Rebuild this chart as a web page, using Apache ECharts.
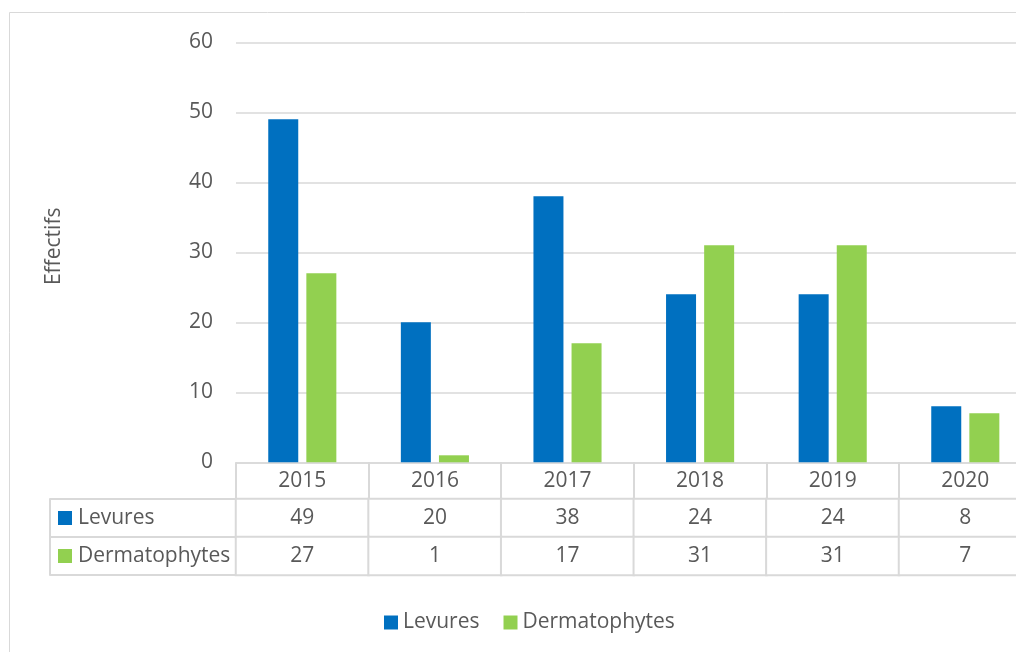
<!DOCTYPE html>
<html>
<head>
<meta charset="utf-8">
<script src="https://cdn.jsdelivr.net/npm/echarts@6/dist/echarts.min.js"></script>
<style>
  html, body { margin: 0; padding: 0; background: #fff; overflow: hidden; }
  /* the chart is a little wider than the window; its right edge is cut off */
  #chart { width: 1040px; height: 652px; }
</style>
</head>
<body>
<div id="chart"></div>
<script>
// Years on the category axis
const years = ['2015', '2016', '2017', '2018', '2019', '2020'];
// Counts per year
const levures = [49, 20, 38, 24, 24, 8];
const dermatophytes = [27, 1, 17, 31, 31, 7];
// Series names and colours
const seriesNames = ['Levures', 'Dermatophytes'];
const seriesColors = ['#0070C0', '#92D050'];
// Value axis ticks
const yMin = 0, yMax = 60, yStep = 10;

const FONT = 'Open Sans';
const FS = 21;
const TEXT = '#595959';
const LINE = '#d9d9d9';

// Cells of the data table under the axis: [column, row, value]
const tableCells = [];
[levures, dermatophytes].forEach((vals, row) => {
  vals.forEach((v, col) => tableCells.push([col, row, v]));
});

const chart = echarts.init(document.getElementById('chart'), null, { renderer: 'canvas' });

const plotLeft = 236, plotWidth = 795.6;

chart.setOption({
  backgroundColor: '#fff',
  animation: false,
  textStyle: { fontFamily: FONT, color: TEXT },
  graphic: [{
    type: 'rect',
    shape: { x: 9.5, y: 12.5, width: 1100, height: 700 },
    style: { fill: 'none', stroke: LINE, lineWidth: 1 },
    silent: true
  }],
  legend: {
    data: seriesNames,
    left: 379,
    top: 607,
    icon: 'rect',
    itemWidth: 14,
    itemHeight: 14,
    itemGap: 24,
    textStyle: { fontFamily: FONT, fontSize: FS, color: TEXT }
  },
  grid: [
    { left: plotLeft, top: 42.3, width: plotWidth, height: 420 },
    { left: plotLeft, top: 499, width: plotWidth, height: 76 }
  ],
  xAxis: [
    {
      gridIndex: 0,
      type: 'category',
      data: years,
      axisLine: { show: true, lineStyle: { color: LINE, width: 1.5 } },
      axisTick: { show: true, length: 37, lineStyle: { color: LINE, width: 2 } },
      axisLabel: { fontFamily: FONT, fontSize: FS, color: TEXT, margin: 8 },
      splitLine: { show: false }
    },
    {
      gridIndex: 1,
      type: 'category',
      data: years,
      show: false
    }
  ],
  yAxis: [
    {
      gridIndex: 0,
      type: 'value',
      min: yMin,
      max: yMax,
      interval: yStep,
      name: 'Effectifs',
      nameLocation: 'middle',
      nameRotate: 90,
      nameGap: 171,
      nameTextStyle: { fontFamily: FONT, fontSize: FS, color: TEXT, padding: [0, 0, 0, 12] },
      axisLine: { show: false },
      axisTick: { show: false },
      axisLabel: { fontFamily: FONT, fontSize: FS, color: TEXT, margin: 23 },
      splitLine: { show: true, lineStyle: { color: LINE, width: 1.5 } }
    },
    {
      gridIndex: 1,
      type: 'category',
      data: seriesNames,
      inverse: true,
      axisLine: { show: true, lineStyle: { color: LINE, width: 2 } },
      axisTick: { show: true, length: 186, lineStyle: { color: LINE, width: 2 } },
      axisLabel: {
        align: 'left',
        margin: 178,
        formatter: (name) => (name === seriesNames[0] ? '{a|}' : '{b|}') + '{t|' + name + '}',
        rich: {
          a: { backgroundColor: seriesColors[0], width: 14, height: 14 },
          b: { backgroundColor: seriesColors[1], width: 14, height: 14 },
          t: { fontFamily: FONT, fontSize: FS, color: TEXT, padding: [0, 0, 0, 6] }
        }
      }
    },
    {
      gridIndex: 1,
      type: 'category',
      data: seriesNames,
      inverse: true,
      position: 'left',
      offset: 186,
      axisLine: { show: true, lineStyle: { color: LINE, width: 2 } },
      axisTick: { show: false },
      axisLabel: { show: false }
    }
  ],
  series: [
    {
      name: seriesNames[0],
      type: 'bar',
      xAxisIndex: 0,
      yAxisIndex: 0,
      data: levures,
      barWidth: 30,
      barGap: '27%',
      itemStyle: { color: seriesColors[0] }
    },
    {
      name: seriesNames[1],
      type: 'bar',
      xAxisIndex: 0,
      yAxisIndex: 0,
      data: dermatophytes,
      barWidth: 30,
      barGap: '27%',
      itemStyle: { color: seriesColors[1] }
    },
    {
      name: 'table',
      type: 'heatmap',
      xAxisIndex: 1,
      yAxisIndex: 1,
      data: tableCells,
      itemStyle: { color: '#ffffff', borderColor: LINE, borderWidth: 2 },
      label: {
        show: true,
        formatter: (p) => String(p.value[2]),
        fontFamily: FONT,
        fontSize: FS,
        color: TEXT
      },
      emphasis: { disabled: true }
    }
  ]
});
</script>
</body>
</html>
